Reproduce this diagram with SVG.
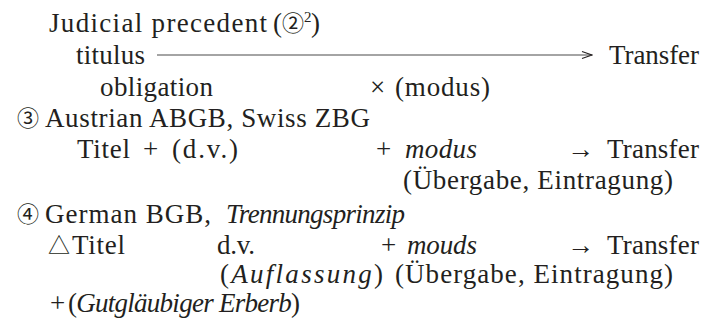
<svg xmlns="http://www.w3.org/2000/svg" width="703" height="324" viewBox="0 0 703 324">
<defs>
<marker id="ah" markerWidth="12" markerHeight="10" refX="11" refY="5" orient="auto" markerUnits="userSpaceOnUse">
<path d="M1,1.5 L11,5 L1,8.5" fill="none" stroke="#231f20" stroke-width="1.1"/>
</marker>
</defs>
<rect width="703" height="324" fill="#fff"/>
<g id="line1">
<text font-family="Liberation Serif" font-size="27" fill="#231f20" x="49" y="32" textLength="218" lengthAdjust="spacing">Judicial precedent</text>
<text font-family="Liberation Serif" font-size="27" fill="#231f20" x="273" y="32">(</text>
<text font-family="Noto Sans CJK JP" font-size="22" fill="#231f20" x="282" y="31">②</text>
<text font-family="Liberation Serif" font-size="15" fill="#231f20" x="304" y="22">2</text>
<text font-family="Liberation Serif" font-size="27" fill="#231f20" x="311" y="32">)</text>
</g>
<g id="line2">
<text font-family="Liberation Serif" font-size="27" fill="#231f20" x="76" y="64" textLength="69" lengthAdjust="spacing">titulus</text>
<text font-family="Liberation Serif" font-size="27" fill="#231f20" x="609" y="64" textLength="90" lengthAdjust="spacing">Transfer</text>
</g>
<g id="line3">
<text font-family="Liberation Serif" font-size="27" fill="#231f20" x="100" y="96" textLength="113" lengthAdjust="spacing">obligation</text>
<text font-family="Liberation Serif" font-size="27" fill="#231f20" x="370" y="96">×</text>
<text font-family="Liberation Serif" font-size="27" fill="#231f20" x="395" y="96" textLength="95" lengthAdjust="spacing">(modus)</text>
</g>
<g id="line4">
<text font-family="Noto Sans CJK JP" font-size="22" fill="#231f20" x="17" y="126">③</text>
<text font-family="Liberation Serif" font-size="27" fill="#231f20" x="45" y="127" textLength="325" lengthAdjust="spacing">Austrian ABGB, Swiss ZBG</text>
</g>
<g id="line5">
<text font-family="Liberation Serif" font-size="27" fill="#231f20" x="77" y="158" textLength="53" lengthAdjust="spacing">Titel</text>
<text font-family="Liberation Serif" font-size="27" fill="#231f20" x="143" y="158">+</text>
<text font-family="Liberation Serif" font-size="27" fill="#231f20" x="172" y="158" textLength="66" lengthAdjust="spacing">(d.v.)</text>
<text font-family="Liberation Serif" font-size="27" fill="#231f20" x="376" y="158">+</text>
<text font-family="Liberation Serif" font-size="27" fill="#231f20" font-style="italic" x="405" y="158" textLength="72" lengthAdjust="spacing">modus</text>
<text font-family="Liberation Serif" font-size="27" fill="#231f20" x="567" y="158">→</text>
<text font-family="Liberation Serif" font-size="27" fill="#231f20" x="607" y="158" textLength="92" lengthAdjust="spacing">Transfer</text>
</g>
<g id="line6">
<text font-family="Liberation Serif" font-size="27" fill="#231f20" x="403" y="189" textLength="270" lengthAdjust="spacing">(Übergabe, Eintragung)</text>
</g>
<g id="line7">
<text font-family="Noto Sans CJK JP" font-size="22" fill="#231f20" x="17" y="222">④</text>
<text font-family="Liberation Serif" font-size="27" fill="#231f20" x="45" y="223" textLength="166" lengthAdjust="spacing">German BGB,</text>
<text font-family="Liberation Serif" font-size="27" fill="#231f20" font-style="italic" x="226" y="223" textLength="179" lengthAdjust="spacing">Trennungsprinzip</text>
</g>
<g id="line8">
<text font-family="Noto Sans CJK JP" font-size="22" fill="#231f20" x="48" y="253">△</text>
<text font-family="Liberation Serif" font-size="27" fill="#231f20" x="72" y="254" textLength="53" lengthAdjust="spacing">Titel</text>
<text font-family="Liberation Serif" font-size="27" fill="#231f20" x="217" y="254" textLength="38" lengthAdjust="spacing">d.v.</text>
<text font-family="Liberation Serif" font-size="27" fill="#231f20" x="381" y="254">+</text>
<text font-family="Liberation Serif" font-size="27" fill="#231f20" font-style="italic" x="407" y="254" textLength="70" lengthAdjust="spacing">mouds</text>
<text font-family="Liberation Serif" font-size="27" fill="#231f20" x="567" y="254">→</text>
<text font-family="Liberation Serif" font-size="27" fill="#231f20" x="607" y="254" textLength="92" lengthAdjust="spacing">Transfer</text>
</g>
<g id="line9">
<text font-family="Liberation Serif" font-size="27" fill="#231f20" x="220" y="283" textLength="163" lengthAdjust="spacing">(<tspan font-style="italic">Auflassung</tspan>)</text>
<text font-family="Liberation Serif" font-size="27" fill="#231f20" x="395" y="283" textLength="278" lengthAdjust="spacing">(Übergabe, Eintragung)</text>
</g>
<g id="line10">
<text font-family="Liberation Serif" font-size="27" fill="#231f20" x="50" y="312">+</text>
<text font-family="Liberation Serif" font-size="27" fill="#231f20" x="68" y="312" textLength="232" lengthAdjust="spacing">(<tspan font-style="italic">Gutgläubiger Erberb</tspan>)</text>
</g>
<g id="connectors">
<line x1="157" y1="55" x2="592" y2="55" stroke="#4a4a4a" stroke-width="1.2" marker-end="url(#ah)"/>
</g>
</svg>
